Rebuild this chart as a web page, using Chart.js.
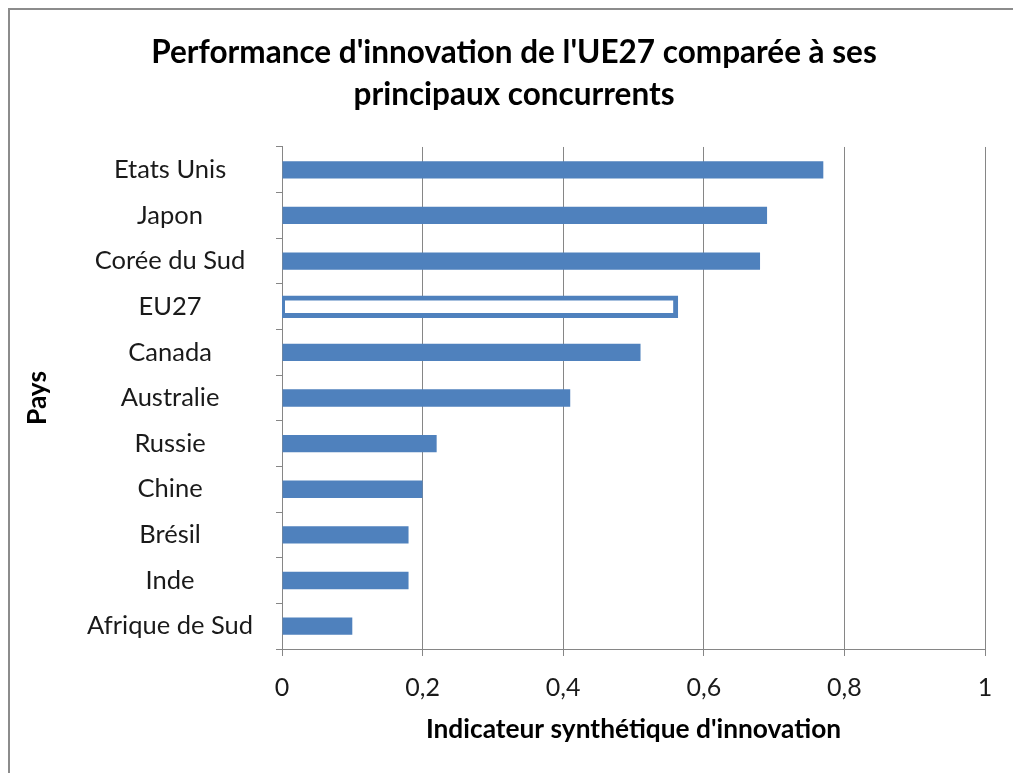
<!DOCTYPE html>
<html lang="fr">
  <head>
    <meta charset="UTF-8" />
    <title>Performance d'innovation de l'UE27</title>
    <script src="https://cdn.jsdelivr.net/npm/chart.js@4"></script>
    <style>
      html, body { margin: 0; padding: 0; background: #fff; overflow: hidden; }
      #wrap { position: relative; width: 1013px; height: 773px; }
      #frame {
        position: absolute; left: 8px; top: 8px; width: 1100px; height: 900px;
        border: 2px solid #8c8c8c; pointer-events: none;
      }
      canvas { position: absolute; left: 0; top: 0; }
    </style>
  </head>
  <body>
    <div id="wrap">
      <canvas id="myChart" width="1013" height="773"></canvas>
      <div id="frame"></div>
    </div>

    <script>
      const countries = ['Etats Unis', 'Japon', 'Corée du Sud', 'EU27', 'Canada', 'Australie',
        'Russie', 'Chine', 'Brésil', 'Inde', 'Afrique de Sud'];
      const scores = [0.77, 0.69, 0.68, 0.56, 0.51, 0.41, 0.22, 0.20, 0.18, 0.18, 0.10];
      const xTickLabels = ['0', '0,2', '0,4', '0,6', '0,8', '1'];
      const highlighted = 'EU27';

      const blue = '#4f81bd';
      const gray = '#868686';
      const textColor = '#1a1a1a';
      const fontName = 'Lato';

      // left padding also centres the title where the original has it
      const padLeft = 43;

      const ctx = document.getElementById('myChart').getContext('2d');
      const isHi = c => countries[c.dataIndex] === highlighted;

      new Chart(ctx, {
        type: 'bar',
        data: {
          labels: countries,
          datasets: [{
            data: scores,
            backgroundColor: c => isHi(c) ? '#ffffff' : blue,
            borderColor: blue,
            borderWidth: c => isHi(c) ? 5 : 0,
            inflateAmount: c => isHi(c) ? 2.5 : 'auto',
            borderSkipped: false,
            barPercentage: 0.38,
            categoryPercentage: 1
          }]
        },
        options: {
          indexAxis: 'y',
          responsive: false,
          animation: false,
          layout: { padding: { left: padLeft, right: 28, top: 0, bottom: 0 } },
          plugins: {
            legend: { display: false },
            tooltip: { enabled: false },
            title: {
              display: true,
              text: ["Performance d'innovation de l'UE27 comparée à ses", 'principaux concurrents'],
              color: '#000',
              font: { family: fontName, size: 31.5, weight: 'bold', lineHeight: 1.333 },
              padding: { top: 32, bottom: 31 }
            }
          },
          scales: {
            x: {
              min: 0,
              max: 1,
              ticks: {
                stepSize: 0.2,
                color: textColor,
                font: { family: fontName, size: 25 },
                padding: 17,
                callback: (v, i) => xTickLabels[i]
              },
              grid: { color: gray, lineWidth: 1, tickLength: 7 },
              border: { color: gray, width: 1 },
              title: {
                display: true,
                text: "Indicateur synthétique d'innovation",
                color: '#000',
                font: { family: fontName, size: 26.3, weight: 'bold' },
                padding: { top: 10, bottom: 28 }
              },
              afterFit: s => { s.height = 124; }
            },
            y: {
              ticks: {
                crossAlign: 'center',
                color: textColor,
                font: { family: fontName, size: 25.5 },
                padding: 23
              },
              grid: { offset: true, drawOnChartArea: false, color: gray, tickLength: 6 },
              border: { color: gray, width: 1 },
              title: {
                display: true,
                text: 'Pays',
                color: '#000',
                font: { family: fontName, size: 26.3, weight: 'bold', lineHeight: 1.2 },
                padding: { top: 38 - padLeft - 15.8, bottom: 4 }
              },
              afterFit: s => { s.width = 282 - padLeft; }
            }
          }
        }
      });
    </script>
  </body>
</html>
